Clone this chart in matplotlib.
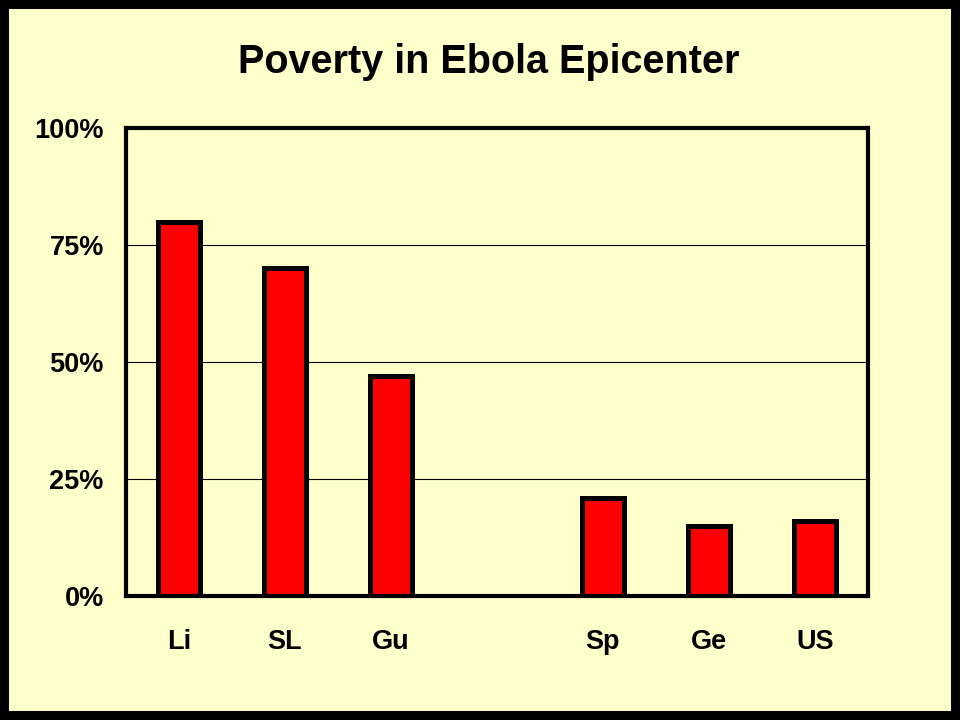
import numpy as np
import matplotlib.pyplot as plt
from matplotlib.patches import Rectangle

plt.rcParams['font.family'] = ['Liberation Sans', 'DejaVu Sans']

# data (percent); empty slot between Gu and Sp
labels = ['Li', 'SL', 'Gu', '', 'Sp', 'Ge', 'US']
poverty = [80, 70, 47, 0, 21, 15, 16]
yticks = [0, 25, 50, 75, 100]

bg = '#FFFFCC'
fig = plt.figure(figsize=(9.6, 7.2), dpi=100, facecolor=bg)
ax = fig.add_axes([126 / 960, 124 / 720, 742 / 960, 468 / 720])
ax.set_facecolor(bg)

x = np.arange(len(labels))
shown = [i for i, lab in enumerate(labels) if lab]
ax.bar([x[i] for i in shown], [poverty[i] for i in shown], width=0.40,
       color='#FF0000', edgecolor='black', linewidth=3.6, zorder=3)

ax.set_xlim(-0.5, len(labels) - 0.5)
ax.set_ylim(0, 100)
ax.set_yticks(yticks)
ax.set_yticklabels([f'{v}%' for v in yticks], fontsize=19.5, fontweight='bold')
ax.set_xticks([x[i] for i in shown])
ax.set_xticklabels([labels[i] for i in shown], fontsize=19.5, fontweight='bold')
ax.tick_params(axis='y', length=0, pad=16)
ax.tick_params(axis='x', length=0, pad=24)

ax.yaxis.grid(True, color='black', linewidth=0.8, zorder=0)
ax.set_axisbelow(True)
for s in ax.spines.values():
    s.set_linewidth(3)
    s.set_zorder(4)

fig.text(489 / 960, 1 - 62 / 720, 'Poverty in Ebola Epicenter', ha='center', va='center',
         fontsize=28.5, fontweight='bold')

# thick black frame around the slide
fig.patches.append(Rectangle((0, 0), 1, 1, transform=fig.transFigure, fill=False,
                             edgecolor='black', linewidth=13, zorder=10))

fig.savefig('out.png', dpi=100, facecolor=bg)
